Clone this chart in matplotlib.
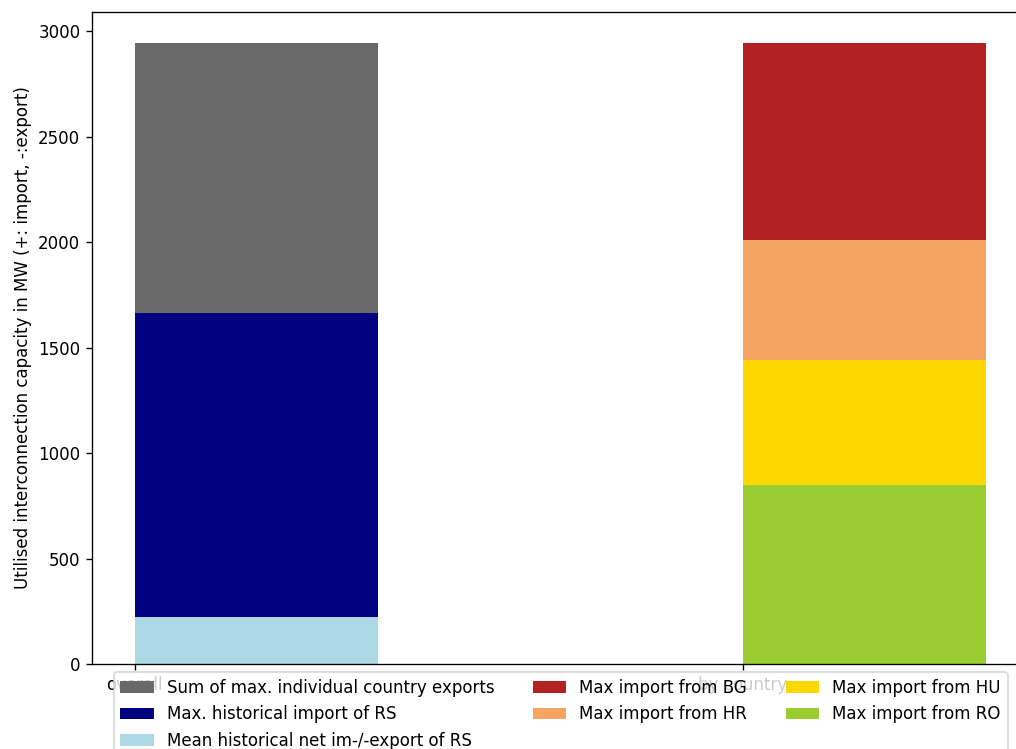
import matplotlib
matplotlib.use('Agg')
import matplotlib.pyplot as plt
import numpy as np

# x categories
categories = ['overall', 'by country']

# overall bar (drawn on top of each other, all from zero)
sum_max_exports = 2943
max_hist_import = 1663
mean_hist_net = 223

# by country bar (stacked)
countries = ['RO', 'HU', 'HR', 'BG']
country_imports = [848, 593, 567, 935]
country_colors = ['yellowgreen', 'gold', 'sandybrown', 'firebrick']

fig = plt.figure(figsize=(1016 / 120, 749 / 120), dpi=120)
ax = fig.add_axes([92 / 1016, 85 / 749, (1029 - 92) / 1016, (664 - 12) / 749])

x = np.arange(len(categories))
w = 0.4

ax.bar(x[0], sum_max_exports, w, align='edge', color='dimgray',
       label='Sum of max. individual country exports')
ax.bar(x[0], max_hist_import, w, align='edge', color='navy',
       label='Max. historical import of RS')
ax.bar(x[0], mean_hist_net, w, align='edge', color='lightblue',
       label='Mean historical net im-/-export of RS')

bottom = 0
for c, v, col in zip(countries, country_imports, country_colors):
    ax.bar(x[1], v, w, bottom=bottom, align='edge', color=col,
           label='Max import from ' + c)
    bottom += v

ax.set_xticks(x)
ax.set_xticklabels(categories)
ax.set_ylabel('Utilised interconnection capacity in MW (+: import, -:export)')

h, l = ax.get_legend_handles_labels()
order = [0, 1, 2, 6, 5, 4, 3]
ax.legend([h[i] for i in order], [l[i] for i in order], ncol=3,
          loc='upper center', bbox_to_anchor=(0.5, 0), columnspacing=2.3)

fig.savefig('out.png', dpi=120)
